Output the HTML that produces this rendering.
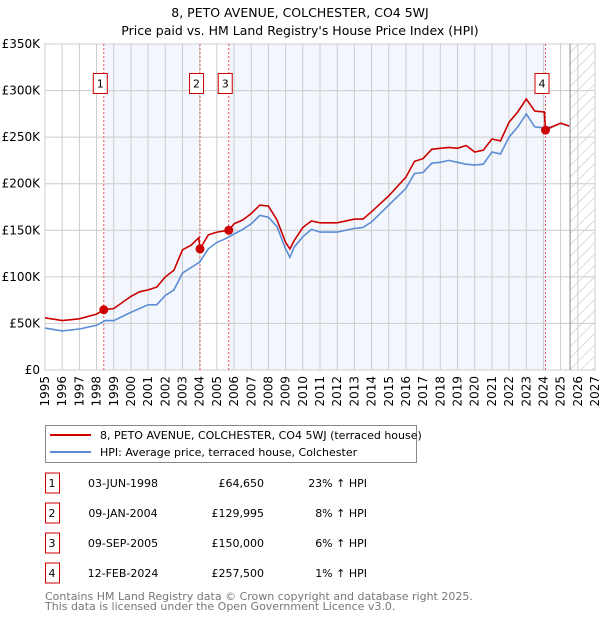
<!DOCTYPE html>
<html><head><meta charset="utf-8">
<style>
body{margin:0;background:#fff;font-family:"Liberation Sans","DejaVu Sans",sans-serif;}
svg text{font-family:"DejaVu Sans","Liberation Sans",sans-serif;}
</style></head>
<body>
<svg id="c" width="600" height="620" xmlns="http://www.w3.org/2000/svg">
<defs>
<pattern id="hatch" width="8" height="8" patternUnits="userSpaceOnUse" patternTransform="rotate(45)">
<line x1="0" y1="0" x2="0" y2="8" stroke="#bbb" stroke-width="1"/>
</pattern>
</defs>
<text x="300" y="17" text-anchor="middle" font-size="12.5">8, PETO AVENUE, COLCHESTER, CO4 5WJ</text>
<text x="300" y="35" text-anchor="middle" font-size="12.5">Price paid vs. HM Land Registry's House Price Index (HPI)</text>
<g id="plot"></g>
<g>
<rect x="45.5" y="425.5" width="371" height="37" fill="#fff" stroke="#888"/>
<line x1="50" y1="435" x2="91" y2="435" stroke="#cc0000" stroke-width="2"/>
<text x="100" y="439" font-size="11">8, PETO AVENUE, COLCHESTER, CO4 5WJ (terraced house)</text>
<line x1="50" y1="452" x2="91" y2="452" stroke="#5b8dd6" stroke-width="2"/>
<text x="100" y="456" font-size="11">HPI: Average price, terraced house, Colchester</text>
</g>
<g id="table" font-size="11"></g>
<text x="45" y="600" font-size="11" fill="#777">Contains HM Land Registry data © Crown copyright and database right 2025.</text>
<text x="45" y="610" font-size="11" fill="#777">This data is licensed under the Open Government Licence v3.0.</text>
</svg>
<script>
const hpiYears=[1995,1996,1997,1998,1998.5,1999,2000,2001,2001.5,2002,2002.5,2003,2003.5,2004,2004.5,2005,2005.5,2006,2006.5,2007,2007.5,2008,2008.5,2009,2009.25,2009.5,2010,2010.5,2011,2012,2013,2013.5,2014,2015,2016,2016.5,2017,2017.5,2018,2018.5,2019,2019.5,2020,2020.5,2021,2021.5,2022,2022.5,2023,2023.5,2024,2024.5,2025,2025.5];
const hpiValues=[45,42,44,48,53,53,62,70,70,80,86,104,110,116,130,137,141,146,151,157,166,164,154,130,121,132,143,151,148,148,152,153,159,177,195,211,212,222,223,225,223,221,220,221,234,232,250,261,275,261,260,261,265,262];
const priceYears=[1995,1996,1997,1998,1998.42,1999,2000,2000.5,2001,2001.5,2002,2002.5,2003,2003.5,2003.95,2004.02,2004.5,2005,2005.69,2006,2006.5,2007,2007.5,2008,2008.5,2009,2009.25,2009.5,2010,2010.5,2011,2012,2013,2013.5,2014,2015,2016,2016.5,2017,2017.5,2018,2018.5,2019,2019.5,2020,2020.5,2021,2021.5,2022,2022.5,2023,2023.5,2024.05,2024.12,2024.5,2025,2025.5];
const priceValues=[56,53,55,60,64.65,66,79,84,86,89,100,107,129,134,142,130,145,148,150,157,161,168,177,176,161,137,130,139,153,160,158,158,162,162,170,187,207,224,227,237,238,239,238,241,234,236,248,246,266,277,291,278,277,257.5,261,265,262];
const saleLabels=["1","2","3","4"];
const saleYears=[1998.42,2004.02,2005.69,2024.12];
const saleValues=[64.65,129.995,150,257.5];
const saleDates=["03-JUN-1998","09-JAN-2004","09-SEP-2005","12-FEB-2024"];
const salePrices=["£64,650","£129,995","£150,000","£257,500"];
const saleDiffs=["23% ↑ HPI","8% ↑ HPI","6% ↑ HPI","1% ↑ HPI"];
const yTicks=[0,50,100,150,200,250,300,350];
const yTickLabels=["£0","£50K","£100K","£150K","£200K","£250K","£300K","£350K"];
const xTicks=[1995,1996,1997,1998,1999,2000,2001,2002,2003,2004,2005,2006,2007,2008,2009,2010,2011,2012,2013,2014,2015,2016,2017,2018,2019,2020,2021,2022,2023,2024,2025,2026,2027];

const NS="http://www.w3.org/2000/svg";
const L=45,R=595,T=44,B=370,X0=1995,X1=2027,YMAX=350,DATA_END=2025.55;
const xs=v=>L+(v-X0)/(X1-X0)*(R-L);
const ys=v=>B-v/YMAX*(B-T);
const plot=document.getElementById('plot');
function mk(tag,attrs,parent){const e=document.createElementNS(NS,tag);for(const k in attrs)e.setAttribute(k,attrs[k]);(parent||plot).appendChild(e);return e;}

let s1=mk('rect',{x:xs(saleYears[0]),y:T,width:xs(saleYears[1])-xs(saleYears[0]),height:B-T,fill:'#f3f6fd'});


let s2=mk('rect',{x:xs(saleYears[2]),y:T,width:xs(saleYears[3])-xs(saleYears[2]),height:B-T,fill:'#f3f6fd'});


let hz=mk('rect',{x:xs(DATA_END),y:T,width:R-xs(DATA_END),height:B-T,fill:'url(#hatch)'});



xTicks.forEach(t=>{
  const g=mk('line',{x1:xs(t),x2:xs(t),y1:T,y2:B,stroke:'#ccc','stroke-width':1});
  
  
  const tx=mk('text',{x:0,y:0,'font-size':12,'text-anchor':'end',transform:`translate(${xs(t)+4},${B+6}) rotate(-90)`});
  tx.textContent=t;
  
  
});
yTicks.forEach((t,i)=>{
  const g=mk('line',{x1:L,x2:R,y1:ys(t),y2:ys(t),stroke:'#ccc','stroke-width':1});
  
  
  const tx=mk('text',{x:L-5,y:ys(t)+4,'font-size':12,'text-anchor':'end'});
  tx.textContent=yTickLabels[i];
  
  
});
let fr=mk('rect',{x:L,y:T,width:R-L,height:B-T,fill:'none',stroke:'#ccc'});


let de=mk('line',{x1:xs(DATA_END),x2:xs(DATA_END),y1:T,y2:B,stroke:'#888'});



saleYears.forEach((y,i)=>{
  const l=mk('line',{x1:xs(y),x2:xs(y),y1:T,y2:B,stroke:'#ee5555','stroke-width':1,'stroke-dasharray':'2,2'});
  
  
  const bx=mk('rect',{x:xs(y)-10.5,y:73.5,width:14,height:20,fill:'#fff',stroke:'#cc0000'});
  
  
  const t=mk('text',{x:xs(y)-3.5,y:87.5,'font-size':11,'text-anchor':'middle'});
  t.textContent=saleLabels[i];
  
  
});

function path(xa,va){return xa.map((x,i)=>(i?'L':'M')+xs(x).toFixed(1)+','+ys(va[i]).toFixed(1)).join(' ');}
let hp=mk('path',{d:path(hpiYears,hpiValues),fill:'none',stroke:'#5b8dd6','stroke-width':1.6});


let pp=mk('path',{d:path(priceYears,priceValues),fill:'none',stroke:'#cc0000','stroke-width':1.6});


saleYears.forEach((y,i)=>{
  const d=mk('circle',{cx:xs(y),cy:ys(saleValues[i]),r:4.5,fill:'#cc0000'});
  
  
});

const tb=document.getElementById('table');
saleLabels.forEach((lab,i)=>{
  const cy=483+i*30;
  const b=mk('rect',{x:45.5,y:cy-10,width:14,height:20,fill:'#fff',stroke:'#cc0000'},tb);
  
  
  const cells=[[52,lab,'middle'],[123,saleDates[i],'middle'],[264,salePrices[i],'end'],[367,saleDiffs[i],'end']];
  cells.forEach(c=>{
    const t=mk('text',{x:c[0],y:cy+4,'text-anchor':c[2]},tb);
    t.textContent=c[1];
    
    
  });
});
</script>
</body></html>
